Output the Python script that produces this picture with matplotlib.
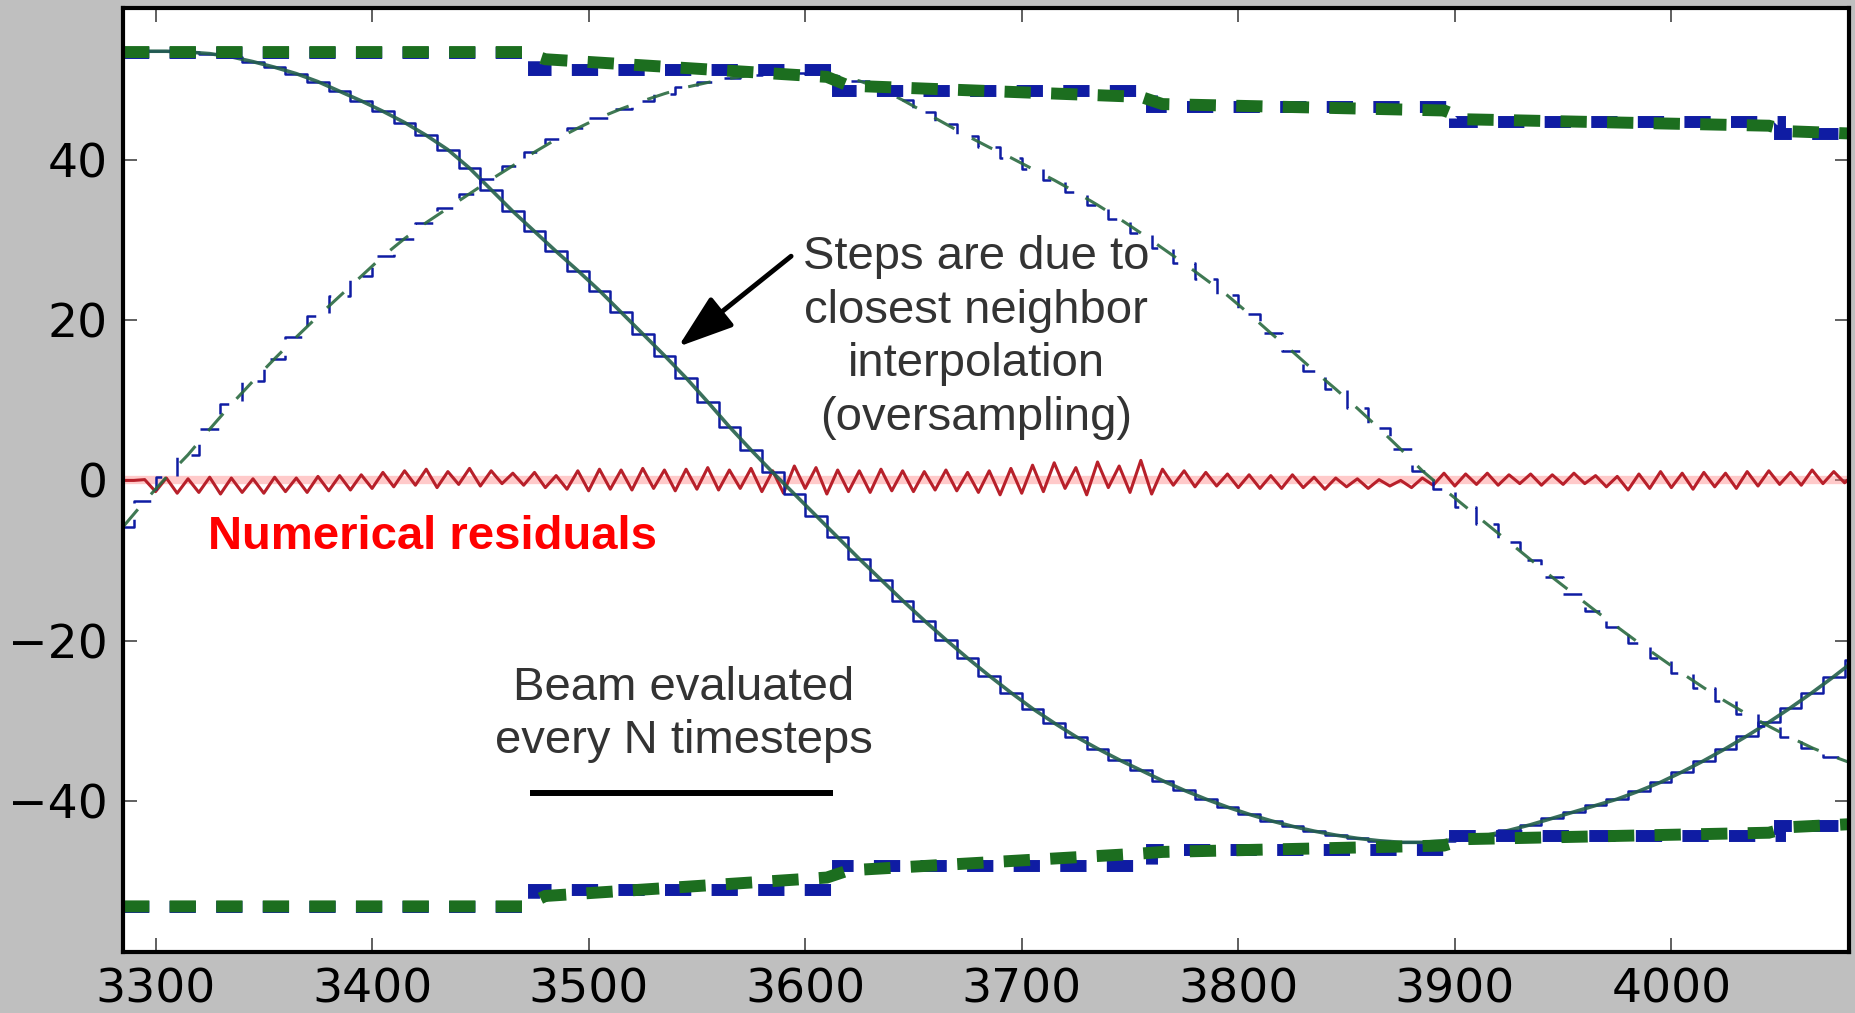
import numpy as np
import matplotlib
matplotlib.use('Agg')
from matplotlib import pyplot as plt

# two particle trajectories, read every 10 units starting at 3285
traj_start = 3285
traj_step = 10
traj_solid = [53.6, 53.6, 53.6, 53.5, 53.3, 52.9, 52.3, 51.6, 50.8, 49.8,
              48.6, 47.4, 46.1, 44.7, 43.1, 41.3, 39.0, 36.3, 33.6, 31.1,
              28.6, 26.2, 23.7, 21.0, 18.3, 15.6, 12.8, 9.8, 6.7, 3.8,
              1.0, -1.7, -4.4, -7.1, -9.8, -12.4, -15.0, -17.5, -19.9, -22.2,
              -24.4, -26.5, -28.5, -30.3, -32.0, -33.5, -34.9, -36.2, -37.5, -38.7,
              -39.8, -40.8, -41.7, -42.5, -43.2, -43.8, -44.3, -44.7, -45.0, -45.2,
              -45.2, -45.0, -44.7, -44.3, -43.7, -43.0, -42.2, -41.4, -40.6, -39.8,
              -38.8, -37.7, -36.4, -35.0, -33.5, -31.9, -30.2, -28.4, -26.5, -24.5,
              -22.4]
traj_dashed = [-5.8, -2.6, 0.4, 3.2, 6.4, 9.5, 12.4, 15.2, 17.9, 20.5,
               23.0, 25.5, 28.0, 30.2, 32.2, 34.0, 35.8, 37.6, 39.3, 41.0,
               42.6, 44.0, 45.3, 46.4, 47.4, 48.3, 49.1, 49.7, 50.2, 50.6,
               50.8, 50.9, 50.8, 50.5, 49.9, 48.9, 47.5, 46.0, 44.5, 43.0,
               41.6, 40.3, 38.9, 37.5, 36.0, 34.4, 32.7, 30.9, 29.0, 27.1,
               25.1, 23.1, 20.8, 18.4, 16.1, 13.7, 11.4, 9.0, 6.5, 3.9,
               1.2, -1.1, -3.3, -5.5, -7.7, -9.9, -12.1, -14.2, -16.3, -18.3,
               -20.3, -22.2, -24.1, -25.9, -27.6, -29.2, -30.7, -32.1, -33.4, -34.5,
               -35.5]

# beam envelope evaluated every N timesteps (blue, piecewise constant)
env_x = [3285, 3475, 3615, 3760, 3900, 4050, 4085]
env_upper = [53.4, 51.3, 48.6, 46.6, 44.8, 43.3, 43.3]
env_lower = [-53.3, -51.2, -48.2, -46.2, -44.4, -43.1, -43.1]

# reference envelope (green)
ref_x = [3285, 3470, 3480, 3610, 3620, 3755, 3765, 3895, 3905, 4045, 4055, 4085]
ref_upper = [53.5, 53.5, 52.6, 50.4, 49.3, 47.9, 47.0, 46.2, 45.1, 44.3, 43.6, 43.3]
ref_lower = [-53.2, -53.2, -51.9, -49.6, -48.7, -46.6, -46.4, -45.6, -44.8, -44.0, -43.3, -42.9]

# numerical residuals, read every 5 units starting at 3285
res_start = 3285
res_step = 5
residuals = [0.0, 0.0, 0.1, -1.4, 0.3, -1.6, 0.2, -1.5, 0.4, -1.7,
             0.3, -1.5, 0.2, -1.6, 0.4, -1.4, 0.3, -1.5, 0.5, -1.3,
             0.6, -1.2, 0.7, -1.0,
             1.0, -0.8, 1.2, -0.6, 1.4, -0.9, 1.1, -0.5, 1.5, -0.7,
             1.2, -0.4, 0.9, -0.6, 1.0, -0.9, 0.6, -1.1,
             1.2, -1.3, 1.4, -1.1, 1.3, -1.2, 1.5, -1.0, 1.3, -1.3,
             1.4, -1.1, 1.6, -1.2, 1.3, -1.0, 1.5, -1.4, 1.2, -1.6,
             1.8, -1.0, 1.6, -1.7, 1.3, -1.4, 1.2, -1.5, 1.4, -1.3,
             1.2, -1.4, 1.1, -1.2, 1.3, -1.3, 1.0, -1.5, 1.2, -1.8,
             1.5, -1.6,
             1.9, -1.4, 2.2, -1.0, 1.6, -1.8, 2.3, -0.9, 1.8, -1.5,
             2.5, -1.7, 1.4, -0.6, 1.2, -0.8, 1.0, -0.7,
             0.8, -0.9, 0.7, -1.0, 0.6, -1.0, 0.7, -0.9, 0.4, -1.1,
             0.3, -0.8, 0.2, -1.0, 0.1, -0.7, 0.0, -0.9, 0.3, -0.6,
             0.9, -0.7, 0.8, -0.5, 0.9, -0.6, 0.7, -0.4, 0.8, -0.6,
             0.7, -0.5, 0.9, -0.4, 0.6, -0.8, 0.5, -1.2, 0.8, -1.0,
             1.1, -0.9, 0.9, -1.1, 1.0, -0.8, 0.9, -1.0, 1.1, -0.7,
             1.2, -0.5, 1.0, -0.6, 1.3, -0.4, 1.1, -0.3, 0.9]

# scale bar showing N timesteps
bar_x = [3473, 3613]
bar_y = [-39.1, -39.1]

x_ticks = [3300, 3400, 3500, 3600, 3700, 3800, 3900, 4000]
y_ticks = [-40, -20, 0, 20, 40]

BLUE = '#0f1ca3'
GREEN = '#1c6e1f'
TEXT = ['Liberation Sans', 'DejaVu Sans']


def draw_trajectories(ax):
    """Thin lines: stepped blue samples under the smooth green ones"""
    tx = traj_start + traj_step * np.arange(len(traj_solid))
    ax.plot(tx, traj_solid, color=BLUE, lw=1.8, drawstyle='steps-mid')
    ax.plot(tx, traj_solid, color='#24604a', lw=2.6, alpha=0.9)
    ax.plot(tx, traj_dashed, color=BLUE, lw=1.8, drawstyle='steps-mid',
            dashes=(7.5, 6.5))
    ax.plot(tx, traj_dashed, color='#2a6a40', lw=2.2, alpha=0.9, dashes=(7.5, 6.5))


def draw_envelope(ax):
    for env in (env_upper, env_lower):
        ax.plot(env_x, env, color=BLUE, lw=8.6, drawstyle='steps-post',
                dashes=(2.2, 1.7), dash_joinstyle='miter', dash_capstyle='butt')
    for env in (ref_upper, ref_lower):
        ax.plot(ref_x, env, color=GREEN, lw=8.6, dashes=(2.2, 1.7),
                dash_joinstyle='miter', dash_capstyle='butt')


def draw_residuals(ax):
    rx = res_start + res_step * np.arange(len(residuals))
    ax.axhline(0, color='#ff8a8a', lw=6, alpha=0.45)
    ax.plot(rx, residuals, color='#b8202a', lw=2.2)


def main():
    fig = plt.figure(figsize=(18.56, 10.13), dpi=100, facecolor='#bfbfbf')
    ax = fig.add_axes([0.0663, 0.0602, 0.9299, 0.9319])
    ax.set_facecolor('white')

    draw_residuals(ax)
    draw_trajectories(ax)
    draw_envelope(ax)

    ax.plot(bar_x, bar_y, color='black', lw=4.3, solid_capstyle='butt')

    ax.annotate('', xy=(3541.4, 16.7), xytext=(3593.5, 28.0),
                arrowprops=dict(arrowstyle='-|>,head_length=1.7,head_width=0.58',
                                mutation_scale=20, lw=3.5, color='black',
                                shrinkA=0, shrinkB=0))

    steps_lines = ['Steps are due to', 'closest neighbor', 'interpolation', '(oversampling)']
    for i, line in enumerate(steps_lines):
        ax.text(3679, 26.4 - 6.7 * i, line, ha='center', va='baseline',
                fontsize=34, color='#333333', family=TEXT)

    ax.text(3544, -27.4, 'Beam evaluated', ha='center', va='baseline',
            fontsize=34, color='#333333', family=TEXT)
    ax.text(3544, -34.1, 'every N timesteps', ha='center', va='baseline',
            fontsize=34, color='#333333', family=TEXT)

    ax.text(3428, -8.6, 'Numerical residuals', ha='center', va='baseline',
            fontsize=34, color='red', fontweight='bold', family=TEXT)

    ax.set_xlim(3285, 4082)
    ax.set_ylim(-58.9, 59.0)
    ax.set_xticks(x_ticks)
    ax.set_yticks(y_ticks)
    ax.tick_params(direction='in', length=10, width=1.2, color='#444444',
                   top=True, right=True, labelsize=34, pad=11)
    for spine in ax.spines.values():
        spine.set_linewidth(3)
        spine.set_color('black')

    fig.savefig('out.png', dpi=100, facecolor=fig.get_facecolor())


if __name__ == '__main__':
    main()
